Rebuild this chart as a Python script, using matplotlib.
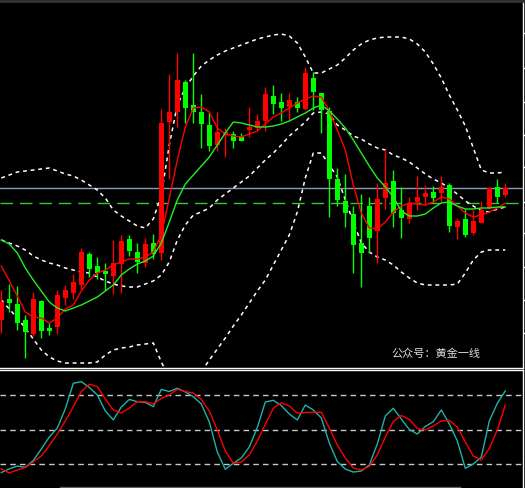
import numpy as np
import matplotlib
matplotlib.use('Agg')
import matplotlib.pyplot as plt
from matplotlib.lines import Line2D

plt.rcParams['font.family'] = ['Noto Sans CJK SC', 'DejaVu Sans']

# --- price bars (relative price units), one per bar number ---
opens = [80, 101, 96, 80, 66, 99, 72, 73, 102, 107, 115, 146, 134, 129, 124, 136,
         161, 148, 137, 157, 147, 278, 288, 318, 295, 288, 275, 255, 265, 266, 263, 270,
         272, 279, 304, 298, 293, 298, 291, 322, 307, 289, 221, 199, 186, 157, 194, 169,
         202, 219, 190, 181, 198, 203, 208, 207, 215, 173, 181, 167, 177, 192, 213, 205]
highs = [110, 116, 114, 85, 108, 100, 77, 110, 115, 126, 152, 148, 143, 137, 160, 165,
         165, 157, 162, 166, 291, 326, 347, 320, 347, 306, 288, 288, 272, 269, 267, 293,
         286, 313, 315, 307, 307, 303, 333, 328, 307, 293, 232, 226, 194, 206, 203, 217,
         251, 230, 213, 203, 224, 215, 214, 224, 217, 182, 191, 190, 199, 213, 221, 217]
lows = [67, 88, 70, 42, 64, 62, 65, 66, 95, 101, 110, 123, 121, 110, 106, 107,
        144, 127, 133, 141, 140, 221, 273, 277, 277, 252, 249, 249, 243, 252, 259, 263,
        270, 269, 286, 279, 280, 288, 290, 290, 267, 183, 194, 173, 127, 113, 147, 137,
        191, 173, 162, 177, 190, 195, 198, 198, 168, 161, 163, 165, 177, 191, 197, 203]
closes = [98, 97, 77, 68, 101, 69, 69, 105, 110, 118, 148, 131, 127, 126, 137, 159,
          149, 138, 156, 146, 277, 288, 320, 292, 288, 276, 254, 268, 268, 259, 259, 273,
          279, 306, 296, 292, 300, 292, 327, 308, 290, 221, 200, 187, 155, 147, 162, 201,
          217, 187, 182, 197, 203, 207, 202, 213, 174, 179, 165, 179, 190, 212, 203, 212]

# moving averages and bollinger bands
ma_fast = [134, 119, 104, 88, 83, 82, 77, 82, 91, 95, 109, 120, 127, 130, 135, 138,
           141, 141, 143, 148, 165, 202, 240, 273, 292, 293, 288, 272, 266, 264, 263, 266,
           269, 276, 283, 287, 292, 297, 301, 304, 303, 289, 270, 250, 215, 187, 172, 171,
           178, 188, 194, 197, 196, 195, 198, 203, 201, 194, 187, 183, 185, 188, 192, 197]
ma_slow = [160, 156, 147, 132, 120, 109, 98, 92, 89, 92, 95, 99, 103, 109, 115, 125,
           131, 136, 139, 144, 157, 178, 200, 216, 225, 234, 243, 255, 267, 278, 277, 275,
           273, 273, 274, 276, 279, 283, 287, 292, 295, 289, 281, 272, 260, 247, 234, 222,
           213, 203, 189, 184, 184, 186, 192, 197, 198, 194, 191, 191, 192, 192, 193, 193]
bb_upper = [222, 225, 228, 229, 230, 231, 232, 229, 226, 224, 220, 215, 210, 202, 190, 184,
            179, 174, 172, 181, 205, 255, 295, 312, 324, 334, 340, 345, 349, 352, 355, 358,
            361, 363, 365, 366, 364, 357, 343, 327, 327, 331, 335, 342, 350, 356, 360, 362,
            363, 363, 363, 361, 356, 348, 336, 322, 305, 290, 274, 252, 230, 227, 227, 228]
bb_mid = [160, 157, 154, 150, 144, 140, 137, 135, 132, 130, 128, 127, 123, 119, 116, 114,
          113, 113, 116, 119, 125, 138, 160, 175, 185, 188, 192, 200, 206, 212, 218, 224,
          232, 240, 247, 255, 264, 271, 278, 287, 288, 286, 275, 270, 264, 261, 256, 252,
          250, 245, 242, 238, 232, 226, 221, 217, 212, 206, 199, 194, 189, 188, 191, 193]
bb_lower = [100, 91, 82, 72, 61, 50, 43, 39, 37, 37, 37, 37, 38, 45, 50, 52,
            53, 55, 56, 57, 38, 22, 12, 12, 18, 28, 40, 51, 62, 74, 85, 97,
            109, 120, 135, 150, 165, 188, 222, 247, 247, 235, 223, 200, 178, 157, 148, 143,
            140, 135, 128, 122, 117, 115, 115, 115, 115, 116, 127, 140, 148, 150, 150, 150]
level_solid = 212
level_dashed = 197
price_ticks = [67, 100, 133, 167, 198, 233, 265, 298, 332, 367]

# stochastic oscillator
stoch_k = [12.9, 16.1, 18.5, 17.4, 23.3, 33.2, 43.6, 51.4, 67.9, 90.1, 91.5, 86.5, 80, 66.1, 58.4, 69.6,
           76.1, 74.2, 73.5, 69.9, 84.8, 83, 85.8, 82.6, 78.5, 72.2, 56.6, 30.6, 15.7, 20.9, 25.5, 35,
           51.9, 73.9, 75.4, 70.8, 63.5, 58.4, 71.3, 67, 60.1, 38.4, 22.4, 15.9, 13.3, 14.2, 19.4, 37.6,
           61.8, 68.5, 59.2, 50.1, 46.2, 52.7, 56.9, 67, 54.9, 40.2, 16.5, 20.3, 26.3, 57.5, 72.8, 83.5]
stoch_d = [16.1, 12.5, 15.1, 17.2, 22, 27.2, 36.3, 46.2, 57.5, 69.9, 83, 89.3, 87.2, 76.5, 67, 64.4,
           68.7, 74.2, 74.2, 72.2, 77, 80, 84.8, 83, 81.7, 76.1, 66.1, 49.7, 31.5, 20.9, 22, 28.1,
           40.2, 54.5, 68.5, 73.3, 70.5, 64.2, 64.8, 65, 65, 51.4, 36.7, 25.5, 16.8, 15.1, 18.1, 28.1,
           43.6, 57.1, 62.3, 58.8, 51, 49.7, 53.2, 57.5, 57.9, 52.3, 39.3, 27.2, 23.7, 33.7, 49.7, 71.3]
stoch_levels = [20, 50, 80]

UP = '#ff0000'
DOWN = '#00ff00'

fig = plt.figure(figsize=(5.25, 4.88), dpi=100, facecolor='black')
ax1 = fig.add_axes([0, 120 / 488, 523 / 525, 367 / 488], facecolor='black')
ax2 = fig.add_axes([0, 0, 523 / 525, 118 / 488], facecolor='black')

x = np.arange(len(opens))
o = np.array(opens, float)
c = np.array(closes, float)
colors = [UP if cc > oo else DOWN for oo, cc in zip(o, c)]

# horizontal levels
ax1.axhline(level_solid, color='#8a9bb0', lw=1, zorder=1)
ax1.axhline(level_dashed, color='#33cc33', lw=1, ls=(0, (9, 5)), zorder=1)

# bollinger bands (dotted white)
for band in (bb_upper, bb_mid, bb_lower):
    ax1.plot(x, band, color='white', lw=1.1, ls=(0, (2.5, 2.5)), zorder=2)

# candles
ax1.vlines(x, lows, highs, colors=colors, lw=1, zorder=3)
body = np.maximum(np.abs(c - o), 1)
ax1.bar(x, body, bottom=np.minimum(o, c), width=0.625, color=colors, lw=0, zorder=4)

# moving averages
ax1.plot(x, ma_fast, color=UP, lw=1, zorder=5)
ax1.plot(x, ma_slow, color='#22ee22', lw=1, zorder=5)

ax1.set_xlim(-0.1625, 65.21)
ax1.set_ylim(32, 399)
ax1.set_xticks([])
ax1.set_yticks(price_ticks)
ax1.yaxis.tick_right()
ax1.tick_params(axis='y', colors='white', length=3, width=1, labelright=False, direction='out')
ax1.spines['left'].set_visible(False)
ax1.spines['top'].set_color('#333333')
ax1.spines['top'].set_linewidth(2)
for s in ('right', 'bottom'):
    ax1.spines[s].set_color('white')
    ax1.spines[s].set_linewidth(1)

fig.text(391 / 525, 1 - 354 / 488, '公众号：黄金一线', color='#dcdcdc', fontsize=8,
         ha='left', va='center')

# stochastic panel
for lv in stoch_levels:
    ax2.axhline(lv, color='#c8c8c8', lw=1, ls=(0, (4, 3)))
ax2.plot(x, stoch_k, color='#20b2aa', lw=1)
ax2.plot(x, stoch_d, color='#ff0000', lw=1)
ax2.set_xlim(-0.1625, 65.21)
ax2.set_ylim(-0.5, 101.6)
ax2.set_xticks([])
ax2.set_yticks([])
ax2.spines['left'].set_visible(False)
ax2.spines['bottom'].set_visible(False)
for s in ('right', 'top'):
    ax2.spines[s].set_color('white')
    ax2.spines[s].set_linewidth(1)

# scrollbar strip along the bottom
fig.add_artist(Line2D([60 / 525, 460 / 525], [1 / 488, 1 / 488], color='#606060', lw=1))

fig.savefig('out.png', dpi=100, facecolor='black')
